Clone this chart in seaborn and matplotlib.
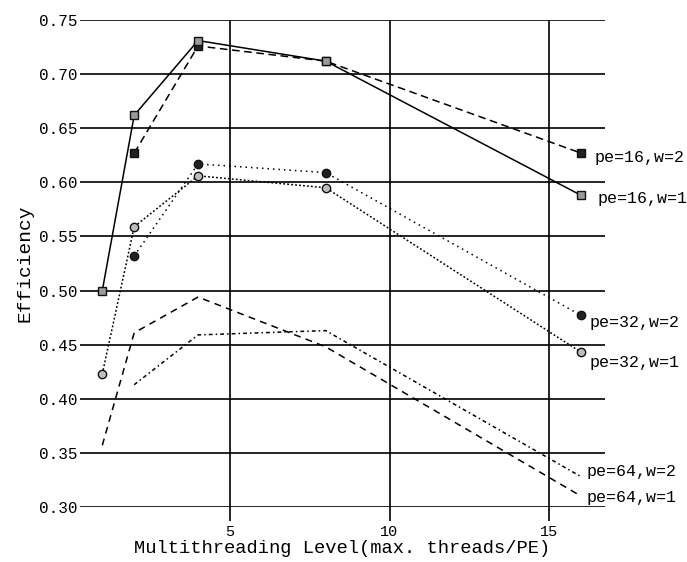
import matplotlib
matplotlib.use("Agg")
import matplotlib.pyplot as plt
import seaborn as sns
import pandas as pd

# Efficiency vs. multithreading level for several PE counts / window sizes
levels_w1 = [1, 2, 4, 8, 16]
levels_w2 = [2, 4, 8, 16]

pe16_w1 = [0.500, 0.662, 0.731, 0.712, 0.588]
pe16_w2 = [0.627, 0.726, 0.712, 0.627]
pe32_w1 = [0.423, 0.559, 0.606, 0.595, 0.443]
pe32_w2 = [0.532, 0.617, 0.609, 0.477]
pe64_w1 = [0.357, 0.461, 0.494, 0.448, 0.310]
pe64_w2 = [0.413, 0.459, 0.463, 0.328]

series_names = ["pe=16,w=2", "pe=16,w=1", "pe=32,w=2", "pe=32,w=1", "pe=64,w=2", "pe=64,w=1"]
series_x = [levels_w2, levels_w1, levels_w2, levels_w1, levels_w2, levels_w1]
series_y = [pe16_w2, pe16_w1, pe32_w2, pe32_w1, pe64_w2, pe64_w1]

y_ticks = [0.30, 0.35, 0.40, 0.45, 0.50, 0.55, 0.60, 0.65, 0.70, 0.75]
x_ticks = [5, 10, 15]

sns.set_theme(style="white")
plt.rcParams["font.family"] = ["Liberation Mono", "DejaVu Sans Mono"]

fig = plt.figure(figsize=(6.87, 5.62), dpi=100)
ax = fig.add_axes([0.1164, 0.0979, 0.7642, 0.8665])

# line style per series: dashes, marker, marker face, label offset (points)
styles = {
    "pe=16,w=2": dict(dashes=(5, 3), marker="s", mfc="#222222", off=(10, -3)),
    "pe=16,w=1": dict(dashes="", marker="s", mfc="#9a9a9a", off=(12, -2)),
    "pe=32,w=2": dict(dashes=(1, 2.6), marker="o", mfc="#222222", off=(6, -5)),
    "pe=32,w=1": dict(dashes=(1.2, 1.4), marker="o", mfc="#bdbdbd", off=(6, -7.5)),
    "pe=64,w=2": dict(dashes=(2.5, 2, 1, 2), marker=None, mfc=None, off=(4, 3.5)),
    "pe=64,w=1": dict(dashes=(4.5, 3.5), marker=None, mfc=None, off=(4, -1)),
}

for name, xs, ys in zip(series_names, series_x, series_y):
    st = styles[name]
    df = pd.DataFrame({"level": xs, "eff": ys})
    kw = dict(color="black", linewidth=1.1, ax=ax)
    if st["marker"]:
        kw.update(marker=st["marker"], markersize=6, markerfacecolor=st["mfc"],
                  markeredgecolor="#111111", markeredgewidth=1.0)
    line_ax = sns.lineplot(data=df, x="level", y="eff", **kw)
    ln = line_ax.get_lines()[-1]
    if st["dashes"]:
        ln.set_dashes(st["dashes"])
    ax.annotate(name, xy=(xs[-1], ys[-1]), xytext=st["off"], textcoords="offset points",
                ha="left", va="center", fontsize=12, color="black",
                annotation_clip=False)

ax.set_xlim(0.3, 16.75)
ax.set_ylim(0.30, 0.75)
ax.set_yticks(y_ticks)
ax.set_yticklabels([f"{v:.2f}" for v in y_ticks])
ax.set_xticks(x_ticks)
ax.set_xticklabels([str(v) for v in x_ticks])

ax.grid(True, color="black", linewidth=1.2)
ax.set_axisbelow(True)
for s in ax.spines.values():
    s.set_visible(False)

ax.tick_params(axis="y", length=0, pad=2, labelsize=11.5, colors="black")
ax.tick_params(axis="x", direction="out", length=10, width=1.2, pad=3,
               labelsize=11, colors="black", bottom=True)

ax.set_xlabel("Multithreading Level(max. threads/PE)", fontsize=13.5, labelpad=0.5, color="black")
ax.set_ylabel("Efficiency", fontsize=14, labelpad=4, color="black")

fig.savefig("out.png", dpi=100, facecolor="white")
